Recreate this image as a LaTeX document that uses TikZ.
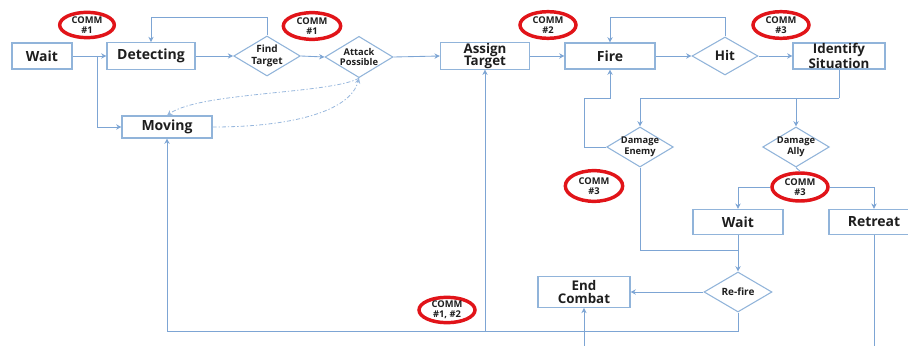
\documentclass[tikz,border=0pt]{standalone}
\usepackage{fontspec}
\setmainfont{Open Sans}
\usetikzlibrary{shapes.geometric,arrows.meta,calc}
\definecolor{linec}{RGB}{125,165,212}
\definecolor{boxc}{RGB}{145,180,218}
\definecolor{commred}{RGB}{225,20,25}
\definecolor{txt}{RGB}{30,30,30}
\tikzset{
  box/.style={draw=boxc, line width=0.8pt, fill=white, inner sep=0pt, align=center, text=txt,
    font=\fontsize{10.5}{11.5}\selectfont\bfseries},
  box2/.style={box, font=\fontsize{10}{9.6}\selectfont\bfseries},
  dia/.style={draw=boxc, line width=0.8pt, fill=white, diamond, inner sep=0pt},
  dtext/.style={text=txt, align=center, inner sep=0pt, font=\fontsize{7}{8}\selectfont\bfseries},
  comm/.style={draw=commred, line width=2.6pt, ellipse, inner sep=0pt},
  ctext/.style={text=txt, align=center, inner sep=0pt, font=\fontsize{7}{7.6}\selectfont\bfseries},
  conn/.style={draw=linec, line width=0.65pt},
  arr/.style={conn, -{Stealth[length=4pt,width=4pt]}},
  darr/.style={draw=linec!80, line width=0.6pt, dash pattern=on 3pt off 1.5pt on 1pt off 1.5pt, -{Stealth[length=4pt,width=4pt]}}
}
\begin{document}
\begin{tikzpicture}[x=0.75pt,y=-0.75pt]
\useasboundingbox (0,0) rectangle (908,346);
% boxes
\node[box, minimum width=45pt, minimum height=19.5pt] (w1) at (42,56) {Wait};
\node[box, minimum width=66pt, minimum height=20pt] (det) at (151,56) {Detecting};
\node[box, minimum width=67.5pt, minimum height=16.5pt] (mov) at (167,127) {Moving};
\node[box2, minimum width=67pt, minimum height=19.5pt] (as) at (485,56) {Assign\\Target};
\node[box, minimum width=67.5pt, minimum height=19.5pt] (fire) at (610,56) {Fire};
\node[box2, minimum width=69pt, minimum height=19.5pt] (id) at (839,56) {Identify\\Situation};
\node[box, minimum width=67.5pt, minimum height=19pt] (w2) at (738,222) {Wait};
\node[box, minimum width=67.5pt, minimum height=19pt] (rt) at (874,222) {Retreat};
\node[box2, minimum width=69pt, minimum height=23pt] (ec) at (584,292) {End\\Combat};
% diamonds
\node[dia, minimum width=50pt, minimum height=30pt] (ft) at (267,56) {};
\node[dtext, font=\fontsize{7.5}{8.5}\selectfont\bfseries] (ftt) at (ft) {Find\\Target};
\node[dia, minimum width=51pt, minimum height=31pt] (ap) at (359,57) {};
\node[dtext] (apt) at (ap) {Attack\\Possible};
\node[dia, minimum width=49.5pt, minimum height=28.5pt] (hit) at (725,56) {};
\node[dtext, font=\fontsize{10}{11}\selectfont\bfseries] (hitt) at (hit) {Hit};
\node[dia, minimum width=50pt, minimum height=30pt] (de) at (640,147) {};
\node[dtext] (det2) at (de) {Damage\\Enemy};
\node[dia, minimum width=50pt, minimum height=30pt] (da) at (796,147) {};
\node[dtext] (dat) at (da) {Damage\\Ally};
\node[dia, minimum width=51pt, minimum height=30pt] (rf) at (738,292) {};
\node[dtext, font=\fontsize{7.5}{8.5}\selectfont\bfseries] (rft) at (rf) {Re-fire};
% connectors
\coordinate (br) at (97,56);
\draw[arr] (w1.east) -- (det.west);
\draw[arr] (br) |- (mov.west);
\draw[arr] (det.east) -- (ft.west);
\draw[arr] (ft.east) -- (ap.west);
\draw[arr] (ft.north) -- ++(0,-18) -| (det.north);
\draw[arr] (ap.east) -- (as.west);
\draw[arr] (as.east) -- (fire.west);
\draw[arr] (fire.east) -- (hit.west);
\draw[arr] (hit.east) -- (id.west);
\draw[arr] (hit.north) -- ++(0,-19) -| (fire.north);
\coordinate (idj) at (839,98);
\draw[conn] (id.south) -- (idj);
\draw[arr] (idj) -| (de.north);
\draw[arr] (idj) -| (da.north);
\coordinate (fl1) at (584,98);
\draw[arr] (de.west) -| (fl1) -| (fire.south);
\coordinate (j1) at (738,250);
\draw[conn] (de.south) |- (j1);
\draw[arr] (w2.south) -- (rf.north);
\draw[arr] (rf.west) -- (ec.east);
\coordinate (bl) at (167,331);
\draw[arr] (rf.south) |- (bl) -- (mov.south);
\coordinate (ab) at (485,331);
\draw[arr, line width=0.45pt] (ab) -- (as.south);
\coordinate (ecb) at (584,350);
\draw[arr] (ecb) -- (ec.south);
\coordinate (rtb) at (874,350);
\draw[conn] (rt.south) -- (rtb);
% dashed curves
\draw[darr] (mov.east) .. controls (290,127) and (350,112) .. (ap.south);
\draw[darr] (ap.south) .. controls (330,94) and (200,92) .. (mov.north);
% COMM ellipses
\node[comm, minimum width=41pt, minimum height=19pt] (c1) at (87,25) {};
\node[ctext] (c1t) at (c1) {COMM\\\#1};
\node[comm, minimum width=43pt, minimum height=20pt] (c2) at (312,26) {};
\node[ctext] (c2t) at (c2) {COMM\\\#1};
\node[comm, minimum width=42pt, minimum height=20pt] (c3) at (548,25) {};
\node[ctext] (c3t) at (c3) {COMM\\\#2};
\node[comm, minimum width=42pt, minimum height=20pt] (c4) at (781,25) {};
\node[ctext] (c4t) at (c4) {COMM\\\#3};
\node[comm, minimum width=43pt, minimum height=23pt] (c5) at (594,186) {};
\node[ctext] (c5t) at (c5) {COMM\\\#3};
\node[comm, minimum width=42pt, minimum height=21pt] (c6) at (800,187) {};
\node[ctext] (c6t) at (c6) {COMM\\\#3};
\node[comm, minimum width=42pt, minimum height=19pt] (c7) at (447,310) {};
\node[ctext] (c7t) at (c7) {COMM\\\#1, \#2};
\draw[conn] (da.south) -- (c6.north);
\draw[arr] (c6.west) -| (w2.north);
\draw[arr] (c6.east) -| (rt.north);
\end{tikzpicture}
\end{document}
